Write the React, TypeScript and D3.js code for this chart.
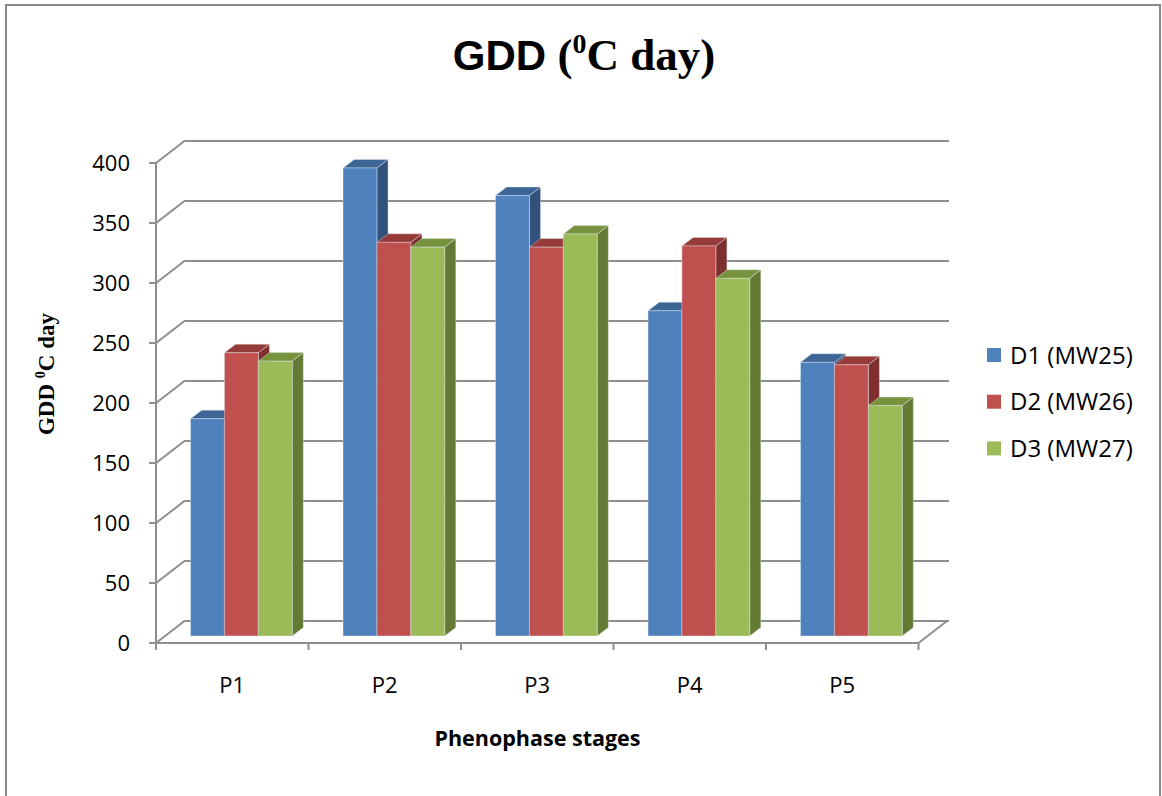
import React from "react";
import * as d3 from "d3";

const categories = ["P1", "P2", "P3", "P4", "P5"];
const seriesNames = ["D1 (MW25)", "D2 (MW26)", "D3 (MW27)"];
const d1Values = [181, 390, 367, 271, 228];
const d2Values = [236, 328, 324, 325, 226];
const d3Values = [229, 324, 335, 298, 192];
const yTicks = [0, 50, 100, 150, 200, 250, 300, 350, 400];

const seriesValues = [d1Values, d2Values, d3Values];
const frontColors = ["#4F81BD", "#C0504D", "#9BBB59"];
const topColors = ["#3D6596", "#963B39", "#77933D"];
const sideColors = ["#32527C", "#7E302E", "#637A34"];

const W = 1162;
const H = 796;
const axisX0 = 156;
const axisX1 = 918.5;
const floorY = 643;
const topY = 163;
const depthDx = 28.5;
const depthDy = -22;
const barFront = 0.32;
const barBack = 0.71;

export default function App() {
  const x = d3.scaleBand<string>().domain(categories).range([axisX0, axisX1]).padding(0);
  const y = d3.scaleLinear().domain([0, 400]).range([floorY, topY]);
  const cw = x.bandwidth();
  const inner = d3
    .scaleBand<number>()
    .domain([0, 1, 2])
    .range([cw * (1 / 6), cw * (5 / 6)])
    .padding(0);
  const bw = inner.bandwidth();

  const fdx = depthDx * barFront;
  const fdy = depthDy * barFront;
  const bdx = depthDx * barBack;
  const bdy = depthDy * barBack;
  const sdx = bdx - fdx;
  const sdy = bdy - fdy;

  const gridColor = "#8F8F8F";
  const bars: JSX.Element[] = [];
  categories.forEach((c, ci) => {
    seriesValues.forEach((vals, si) => {
      const v = vals[ci];
      const x0 = (x(c) as number) + (inner(si) as number) + fdx;
      const x1 = x0 + bw;
      const yb = y(0) + fdy;
      const yt = y(v) + fdy;
      const front = `M${x0},${yb}L${x1},${yb}L${x1},${yt}L${x0},${yt}Z`;
      const top = `M${x0},${yt}L${x1},${yt}L${x1 + sdx},${yt + sdy}L${x0 + sdx},${yt + sdy}Z`;
      const side = `M${x1},${yb}L${x1 + sdx},${yb + sdy}L${x1 + sdx},${yt + sdy}L${x1},${yt}Z`;
      bars.push(
        <g key={`${ci}-${si}`}>
          <path d={side} fill={sideColors[si]} stroke="#e8eef5" strokeWidth={0.4} />
          <path d={top} fill={topColors[si]} stroke="#e8eef5" strokeWidth={0.4} />
          <path d={front} fill={frontColors[si]} stroke="#e8eef5" strokeWidth={0.4} />
        </g>
      );
    });
  });

  const tickFont = "'Open Sans', 'Noto Sans', sans-serif";

  return (
    <svg
      width={W}
      height={H}
      style={{ position: "absolute", left: 0, top: 0, background: "#fff" }}
    >
      <rect x={0} y={0} width={W} height={H} fill="#fff" />
      <rect x={6} y={5} width={1154} height={H + 20} fill="#fff" stroke="#8a8a8a" strokeWidth={2} />

      {/* Title */}
      <text x={584} y={70} textAnchor="middle" fontWeight="bold" fill="#000">
        <tspan fontFamily="'Liberation Sans', Arial, sans-serif" fontSize={42}>GDD</tspan>
        <tspan fontFamily="'Liberation Serif', 'Times New Roman', serif" fontSize={45}> (</tspan>
        <tspan fontFamily="'Liberation Serif', 'Times New Roman', serif" fontSize={28} dy={-17}>0</tspan>
        <tspan fontFamily="'Liberation Serif', 'Times New Roman', serif" fontSize={45} dy={17}>C day)</tspan>
      </text>

      {/* Wall gridlines */}
      {yTicks.map((t) => (
        <path
          key={`g${t}`}
          d={`M${axisX0},${y(t)}L${axisX0 + depthDx},${y(t) + depthDy}L${axisX1 + depthDx + 2},${y(t) + depthDy}`}
          fill="none"
          stroke={gridColor}
          strokeWidth={2}
        />
      ))}
      {/* Floor */}
      <path
        d={`M${axisX0},${floorY}L${axisX1},${floorY}L${axisX1 + depthDx},${floorY + depthDy}`}
        fill="none"
        stroke={gridColor}
        strokeWidth={2}
      />
      {/* Y axis */}
      <line x1={axisX0} y1={y(400)} x2={axisX0} y2={floorY} stroke={gridColor} strokeWidth={2} />
      {yTicks.map((t) => (
        <g key={`yt${t}`}>
          <line x1={axisX0 - 7} y1={y(t)} x2={axisX0} y2={y(t)} stroke={gridColor} strokeWidth={2} />
          <text
            x={130}
            y={y(t)}
            dy="0.36em"
            textAnchor="end"
            fontFamily={tickFont}
            fontSize={22}
            fill="#000"
          >
            {t}
          </text>
        </g>
      ))}
      {/* X ticks */}
      {[...categories.map((c) => x(c) as number), axisX1].map((px, i) => (
        <line key={`xt${i}`} x1={px} y1={floorY} x2={px} y2={floorY + 7} stroke={gridColor} strokeWidth={2} />
      ))}
      {categories.map((c) => (
        <text
          key={`xl${c}`}
          x={(x(c) as number) + cw / 2}
          y={685}
          dy="0.36em"
          textAnchor="middle"
          fontFamily={tickFont}
          fontSize={22}
          fill="#000"
        >
          {c}
        </text>
      ))}

      {bars}

      {/* Axis titles */}
      <text
        x={537.5}
        y={746}
        textAnchor="middle"
        fontFamily={tickFont}
        fontWeight="bold"
        fontSize={21.5}
        fill="#000"
      >
        Phenophase stages
      </text>
      <text
        transform="translate(46,374) rotate(-90)"
        dy="0.35em"
        textAnchor="middle"
        fontFamily="'Liberation Serif', 'Times New Roman', serif"
        fontWeight="bold"
        fontSize={23}
        fill="#000"
      >
        GDD <tspan fontSize={14} dy={-9}>0</tspan>
        <tspan dy={9}>C day</tspan>
      </text>

      {/* Legend */}
      {seriesNames.map((n, i) => (
        <g key={`lg${i}`} transform={`translate(987,${355 + i * 46.7})`}>
          <rect x={0} y={-7} width={14} height={14} fill={frontColors[i]} />
          <text x={23} y={0} dy="0.36em" fontFamily={tickFont} fontSize={24} fill="#000">
            {n}
          </text>
        </g>
      ))}
    </svg>
  );
}
